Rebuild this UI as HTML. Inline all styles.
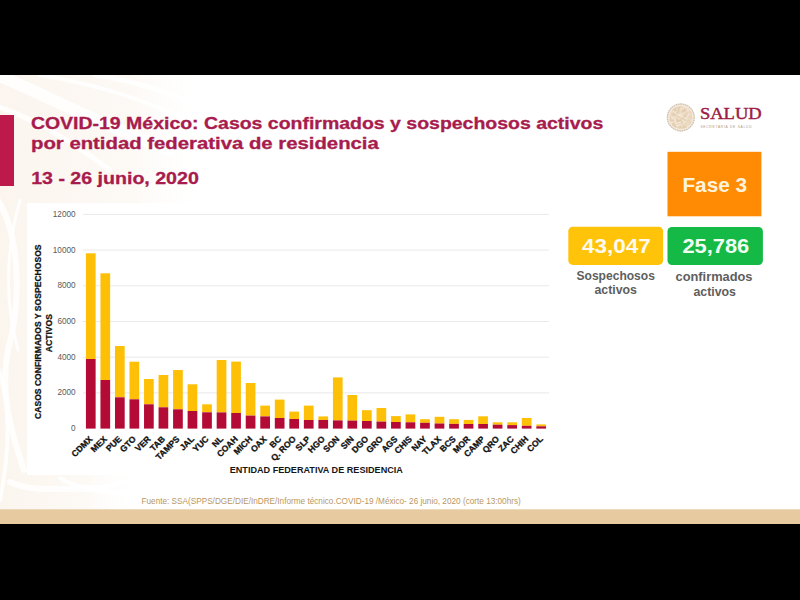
<!DOCTYPE html>
<html lang="es"><head><meta charset="utf-8"><title>COVID-19 México: Casos confirmados y sospechosos activos</title>
<style>
html,body{margin:0;padding:0;background:#000;}
body{width:800px;height:600px;overflow:hidden;font-family:"Liberation Sans",sans-serif;}
svg{display:block;}
text{font-family:"Liberation Sans",sans-serif;}
.serif{font-family:"Liberation Serif",serif;}
</style></head><body>
<svg width="800" height="600" viewBox="0 0 800 600">
<defs>
<linearGradient id="fade" x1="0" x2="1" y1="0" y2="0">
<stop offset="0" stop-color="#f6e8d8" stop-opacity="0.43"/>
<stop offset="0.6" stop-color="#f6e8d8" stop-opacity="0.27"/>
<stop offset="1" stop-color="#ffffff" stop-opacity="0"/>
</linearGradient>
<clipPath id="slideclip"><rect x="0" y="75" width="800" height="435"/></clipPath>
<filter id="grain" x="-5%" y="-5%" width="110%" height="110%" color-interpolation-filters="sRGB">
<feTurbulence type="fractalNoise" baseFrequency="0.3" numOctaves="2" seed="11" result="n"/>
<feColorMatrix in="n" type="matrix" values="0 0 0 0 0.89  0 0 0 0 0.80  0 0 0 0 0.68  3.2 0 0 0 -1.15" result="c"/>
<feComposite in="c" in2="SourceGraphic" operator="in"/>
</filter>
</defs>
<!-- slide background -->
<rect x="0" y="0" width="800" height="600" fill="#000"/>
<rect x="0" y="75" width="800" height="449" fill="#ffffff"/>
<!-- faint decorative pattern on the left -->
<g id="pattern" clip-path="url(#slideclip)">
<rect x="0" y="75" width="215" height="128" fill="url(#fade)"/>
<rect x="0" y="203" width="140" height="307" fill="url(#fade)"/>
<g fill="none" stroke="#ffffff" stroke-opacity="0.85" stroke-linecap="round">
<path d="M-10 72 C40 92 90 120 170 150" stroke-width="12"/>
<path d="M-10 104 C30 116 70 140 110 170" stroke-width="5"/>
<path d="M40 75 C80 82 130 92 205 128" stroke-width="4"/>
<path d="M95 75 C130 80 170 92 215 112" stroke-width="5"/>
<path d="M-5 196 C20 230 22 300 8 350 C0 390 10 430 24 470" stroke-width="6"/>
<path d="M20 200 C6 250 4 300 18 350" stroke-width="3"/>
<path d="M-5 360 C12 400 10 450 0 500" stroke-width="4"/>
<path d="M10 482 C50 500 90 474 150 506" stroke-width="6"/>
<path d="M60 478 C80 492 110 488 130 480" stroke-width="4"/>
</g>
</g>
<!-- chart white panel -->
<rect x="27" y="203" width="535" height="272" fill="#ffffff"/>
<!-- bottom band -->
<rect x="0" y="509.3" width="800" height="14.7" fill="#e7caa0"/>
<!-- left accent -->
<rect x="0" y="115" width="14" height="71" fill="#bd1a4b"/>

<g fill="#a81b4d" stroke="#a81b4d" stroke-width="0.3" font-weight="700" font-size="16.3">
<text x="30.9" y="128.8" textLength="572.4" lengthAdjust="spacingAndGlyphs">COVID-19 México: Casos confirmados y sospechosos activos</text>
<text x="31" y="149.4" textLength="347.8" lengthAdjust="spacingAndGlyphs">por entidad federativa de residencia</text>
<text x="31.2" y="183.7" textLength="167.6" lengthAdjust="spacingAndGlyphs">13 - 26 junio, 2020</text>
</g>
<g id="logo">
<circle cx="680.8" cy="117.4" r="14" fill="#f4e9db"/>
<circle cx="680.8" cy="117.4" r="13.4" fill="none" stroke="#cfc3b2" stroke-width="1.3" stroke-dasharray="1.6 0.7"/>
<circle cx="680.8" cy="117.4" r="11.4" fill="#f1e2cf"/>
<circle cx="680.8" cy="117.4" r="11.4" fill="#dcc2a0" filter="url(#grain)"/>
<path d="M673.5 111.5 l2.5 2.2 M677.5 114.5 q5 1.5 9.5 5 M676 123.5 l4.5 -1.5" stroke="#f7eee3" stroke-width="1" fill="none" stroke-linecap="round"/>
<text class="serif" x="699.9" y="119.3" font-size="16" font-weight="400" fill="#9c1c45" stroke="#9c1c45" stroke-width="0.42" textLength="61.8" lengthAdjust="spacingAndGlyphs">SALUD</text>
<text x="700.4" y="128" font-size="3.3" fill="#b39a7a" textLength="51.2" lengthAdjust="spacing">SECRETARÍA DE SALUD</text>
</g>

<rect x="667.5" y="151.8" width="93.9" height="64.5" fill="#ff8b05"/>
<text x="682.4" y="191.6" font-size="19.3" font-weight="700" fill="#fff3dc" textLength="64.8" lengthAdjust="spacingAndGlyphs">Fase 3</text>
<rect x="568.3" y="226.8" width="94.8" height="38.1" rx="4.5" fill="#ffc30a"/>
<rect x="667.5" y="226.9" width="95.4" height="38.1" rx="4.5" fill="#14ba45"/>
<text x="582" y="253" font-size="19.6" font-weight="700" fill="#fffaef" textLength="68.8" lengthAdjust="spacingAndGlyphs">43,047</text>
<text x="682.4" y="253" font-size="19.6" font-weight="700" fill="#f2fff2" textLength="66.8" lengthAdjust="spacingAndGlyphs">25,786</text>
<g fill="#5e5e5e" font-weight="700" font-size="12.2">
<text x="576.5" y="280.2" textLength="78.4" lengthAdjust="spacingAndGlyphs">Sospechosos</text>
<text x="594.4" y="294.2" textLength="42.6" lengthAdjust="spacingAndGlyphs">activos</text>
<text x="675.5" y="281.3" textLength="77" lengthAdjust="spacingAndGlyphs">confirmados</text>
<text x="693.4" y="295.5" textLength="42.6" lengthAdjust="spacingAndGlyphs">activos</text>
</g>
<g stroke="#e9e9e9" stroke-width="1">
<line x1="83" x2="549" y1="392.9" y2="392.9"/>
<line x1="83" x2="549" y1="357.2" y2="357.2"/>
<line x1="83" x2="549" y1="321.5" y2="321.5"/>
<line x1="83" x2="549" y1="285.8" y2="285.8"/>
<line x1="83" x2="549" y1="250.1" y2="250.1"/>
<line x1="83" x2="549" y1="214.4" y2="214.4"/>
</g>
<g fill="#5a5a5a" font-size="8.2" text-anchor="end">
<text x="75.6" y="431.1">0</text>
<text x="75.6" y="395.4">2000</text>
<text x="75.6" y="359.7">4000</text>
<text x="75.6" y="323.9">6000</text>
<text x="75.6" y="288.2">8000</text>
<text x="75.6" y="252.6">10000</text>
<text x="75.6" y="216.8">12000</text>
</g>
<g fill="#111" stroke="#111" stroke-width="0.25" font-weight="700" font-size="8.6" text-anchor="middle">
<text transform="translate(40.5 331.7) rotate(-90)" textLength="174.5" lengthAdjust="spacingAndGlyphs">CASOS CONFIRMADOS Y SOSPECHOSOS</text>
<text transform="translate(51.7 333.1) rotate(-90)" textLength="38.3" lengthAdjust="spacingAndGlyphs">ACTIVOS</text>
</g>
<g id="bars">
<rect x="85.92" y="253.3" width="9.7" height="105.7" fill="#FEC007"/><rect x="85.92" y="359.0" width="9.7" height="69.6" fill="#B40A36"/>
<rect x="100.45" y="273.3" width="9.7" height="106.7" fill="#FEC007"/><rect x="100.45" y="380.0" width="9.7" height="48.6" fill="#B40A36"/>
<rect x="114.98" y="346.0" width="9.7" height="51.3" fill="#FEC007"/><rect x="114.98" y="397.3" width="9.7" height="31.3" fill="#B40A36"/>
<rect x="129.50" y="361.7" width="9.7" height="37.6" fill="#FEC007"/><rect x="129.50" y="399.3" width="9.7" height="29.3" fill="#B40A36"/>
<rect x="144.03" y="379.0" width="9.7" height="25.3" fill="#FEC007"/><rect x="144.03" y="404.3" width="9.7" height="24.3" fill="#B40A36"/>
<rect x="158.56" y="375.0" width="9.7" height="32.3" fill="#FEC007"/><rect x="158.56" y="407.3" width="9.7" height="21.3" fill="#B40A36"/>
<rect x="173.09" y="370.0" width="9.7" height="39.3" fill="#FEC007"/><rect x="173.09" y="409.3" width="9.7" height="19.3" fill="#B40A36"/>
<rect x="187.62" y="384.3" width="9.7" height="26.7" fill="#FEC007"/><rect x="187.62" y="411.0" width="9.7" height="17.6" fill="#B40A36"/>
<rect x="202.16" y="404.3" width="9.7" height="8.0" fill="#FEC007"/><rect x="202.16" y="412.3" width="9.7" height="16.3" fill="#B40A36"/>
<rect x="216.68" y="360.0" width="9.7" height="52.4" fill="#FEC007"/><rect x="216.68" y="412.4" width="9.7" height="16.2" fill="#B40A36"/>
<rect x="231.21" y="361.6" width="9.7" height="51.4" fill="#FEC007"/><rect x="231.21" y="413.0" width="9.7" height="15.6" fill="#B40A36"/>
<rect x="245.74" y="383.0" width="9.7" height="32.6" fill="#FEC007"/><rect x="245.74" y="415.6" width="9.7" height="13.0" fill="#B40A36"/>
<rect x="260.28" y="405.6" width="9.7" height="10.8" fill="#FEC007"/><rect x="260.28" y="416.4" width="9.7" height="12.2" fill="#B40A36"/>
<rect x="274.81" y="399.6" width="9.7" height="18.4" fill="#FEC007"/><rect x="274.81" y="418.0" width="9.7" height="10.6" fill="#B40A36"/>
<rect x="289.33" y="411.6" width="9.7" height="7.4" fill="#FEC007"/><rect x="289.33" y="419.0" width="9.7" height="9.6" fill="#B40A36"/>
<rect x="303.87" y="405.6" width="9.7" height="14.4" fill="#FEC007"/><rect x="303.87" y="420.0" width="9.7" height="8.6" fill="#B40A36"/>
<rect x="318.40" y="416.4" width="9.7" height="3.6" fill="#FEC007"/><rect x="318.40" y="420.0" width="9.7" height="8.6" fill="#B40A36"/>
<rect x="332.93" y="377.4" width="9.7" height="43.0" fill="#FEC007"/><rect x="332.93" y="420.4" width="9.7" height="8.2" fill="#B40A36"/>
<rect x="347.45" y="395.0" width="9.7" height="25.6" fill="#FEC007"/><rect x="347.45" y="420.6" width="9.7" height="8.0" fill="#B40A36"/>
<rect x="361.99" y="410.2" width="9.7" height="10.8" fill="#FEC007"/><rect x="361.99" y="421.0" width="9.7" height="7.6" fill="#B40A36"/>
<rect x="376.51" y="408.0" width="9.7" height="13.6" fill="#FEC007"/><rect x="376.51" y="421.6" width="9.7" height="7.0" fill="#B40A36"/>
<rect x="391.05" y="416.1" width="9.7" height="5.9" fill="#FEC007"/><rect x="391.05" y="422.0" width="9.7" height="6.6" fill="#B40A36"/>
<rect x="405.57" y="414.4" width="9.7" height="7.9" fill="#FEC007"/><rect x="405.57" y="422.3" width="9.7" height="6.3" fill="#B40A36"/>
<rect x="420.11" y="419.2" width="9.7" height="3.6" fill="#FEC007"/><rect x="420.11" y="422.8" width="9.7" height="5.8" fill="#B40A36"/>
<rect x="434.63" y="416.8" width="9.7" height="6.7" fill="#FEC007"/><rect x="434.63" y="423.5" width="9.7" height="5.1" fill="#B40A36"/>
<rect x="449.17" y="419.2" width="9.7" height="4.7" fill="#FEC007"/><rect x="449.17" y="423.9" width="9.7" height="4.7" fill="#B40A36"/>
<rect x="463.69" y="419.9" width="9.7" height="4.1" fill="#FEC007"/><rect x="463.69" y="424.0" width="9.7" height="4.6" fill="#B40A36"/>
<rect x="478.23" y="416.3" width="9.7" height="7.7" fill="#FEC007"/><rect x="478.23" y="424.0" width="9.7" height="4.6" fill="#B40A36"/>
<rect x="492.75" y="422.3" width="9.7" height="2.4" fill="#FEC007"/><rect x="492.75" y="424.7" width="9.7" height="3.9" fill="#B40A36"/>
<rect x="507.29" y="422.3" width="9.7" height="2.8" fill="#FEC007"/><rect x="507.29" y="425.1" width="9.7" height="3.5" fill="#B40A36"/>
<rect x="521.81" y="418.0" width="9.7" height="7.8" fill="#FEC007"/><rect x="521.81" y="425.8" width="9.7" height="2.8" fill="#B40A36"/>
<rect x="536.35" y="424.4" width="9.7" height="1.9" fill="#FEC007"/><rect x="536.35" y="426.3" width="9.7" height="2.3" fill="#B40A36"/>
</g>
<g fill="#111" stroke="#111" stroke-width="0.3" font-weight="700" font-size="8.6" text-anchor="end">
<text transform="translate(93.0 439.6) rotate(-45)">CDMX</text>
<text transform="translate(107.5 439.6) rotate(-45)">MEX</text>
<text transform="translate(122.0 439.6) rotate(-45)">PUE</text>
<text transform="translate(136.6 439.6) rotate(-45)">GTO</text>
<text transform="translate(151.1 439.6) rotate(-45)">VER</text>
<text transform="translate(165.6 439.6) rotate(-45)">TAB</text>
<text transform="translate(180.1 439.6) rotate(-45)">TAMPS</text>
<text transform="translate(194.7 439.6) rotate(-45)">JAL</text>
<text transform="translate(209.2 439.6) rotate(-45)">YUC</text>
<text transform="translate(223.7 439.6) rotate(-45)">NL</text>
<text transform="translate(238.3 439.6) rotate(-45)">COAH</text>
<text transform="translate(252.8 439.6) rotate(-45)">MICH</text>
<text transform="translate(267.3 439.6) rotate(-45)">OAX</text>
<text transform="translate(281.9 439.6) rotate(-45)">BC</text>
<text transform="translate(296.4 439.6) rotate(-45)">Q. ROO</text>
<text transform="translate(310.9 439.6) rotate(-45)">SLP</text>
<text transform="translate(325.4 439.6) rotate(-45)">HGO</text>
<text transform="translate(340.0 439.6) rotate(-45)">SON</text>
<text transform="translate(354.5 439.6) rotate(-45)">SIN</text>
<text transform="translate(369.0 439.6) rotate(-45)">DGO</text>
<text transform="translate(383.6 439.6) rotate(-45)">GRO</text>
<text transform="translate(398.1 439.6) rotate(-45)">AGS</text>
<text transform="translate(412.6 439.6) rotate(-45)">CHIS</text>
<text transform="translate(427.2 439.6) rotate(-45)">NAY</text>
<text transform="translate(441.7 439.6) rotate(-45)">TLAX</text>
<text transform="translate(456.2 439.6) rotate(-45)">BCS</text>
<text transform="translate(470.7 439.6) rotate(-45)">MOR</text>
<text transform="translate(485.3 439.6) rotate(-45)">CAMP</text>
<text transform="translate(499.8 439.6) rotate(-45)">QRO</text>
<text transform="translate(514.3 439.6) rotate(-45)">ZAC</text>
<text transform="translate(528.9 439.6) rotate(-45)">CHIH</text>
<text transform="translate(543.4 439.6) rotate(-45)">COL</text>
</g>
<text x="229.7" y="473" font-size="9.2" font-weight="700" fill="#161616" textLength="173.2" lengthAdjust="spacingAndGlyphs">ENTIDAD FEDERATIVA DE RESIDENCIA</text>
<text x="141.5" y="504" font-size="8.2" fill="#b8975f" textLength="379.3" lengthAdjust="spacingAndGlyphs">Fuente: SSA(SPPS/DGE/DIE/InDRE/Informe técnico.COVID-19 /México- 26 junio, 2020 (corte 13:00hrs)</text>
</svg>
</body></html>
